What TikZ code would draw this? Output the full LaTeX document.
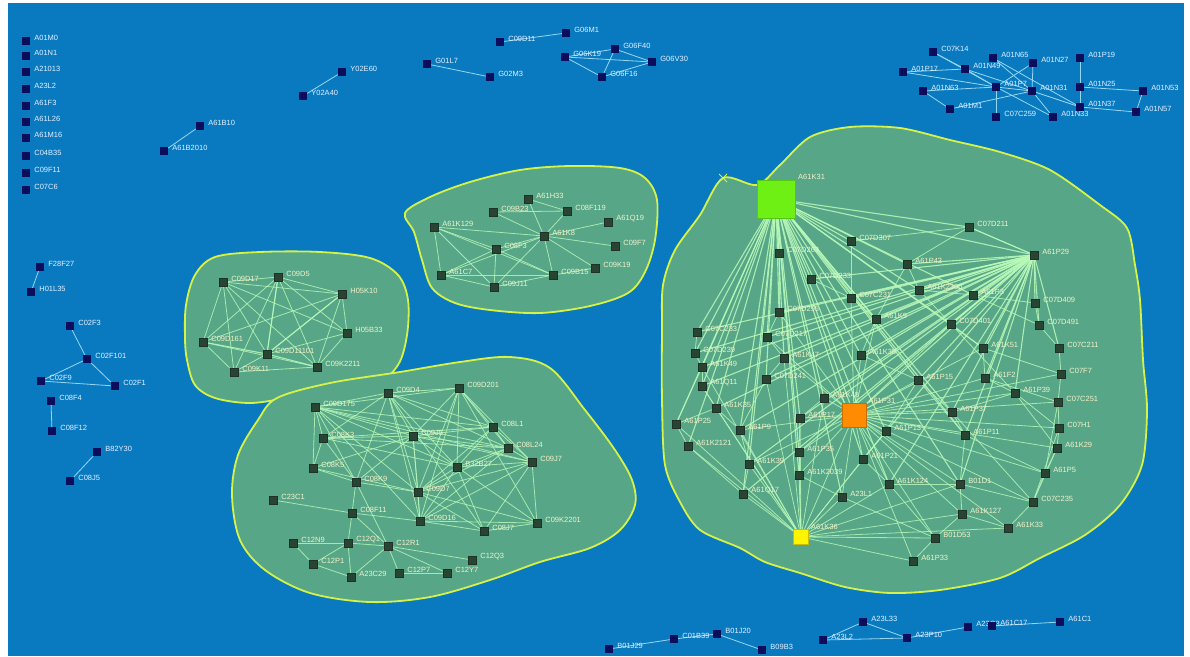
\documentclass[tikz,border=0pt]{standalone}
\usepackage{fontspec}
\setmainfont{Liberation Sans}
\pgfdeclarelayer{bgl}
\pgfdeclarelayer{edgel}
\pgfsetlayers{bgl,edgel,main}
\definecolor{bgblue}{RGB}{10,122,192}
\definecolor{clfill}{RGB}{88,166,136}
\definecolor{clline}{RGB}{214,242,72}
\definecolor{edgec}{RGB}{185,250,185}
\definecolor{oedgec}{RGB}{150,215,240}
\definecolor{outsq}{RGB}{12,14,92}
\definecolor{insq}{RGB}{42,68,52}
\definecolor{outtxt}{RGB}{225,240,255}
\definecolor{intxt}{RGB}{242,242,200}
\tikzset{
  osq/.style={fill=outsq,minimum size=8pt,inner sep=0pt},
  isq/.style={fill=insq,draw={rgb,255:red,30;green,50;blue,40},line width=0.4pt,minimum size=8pt,inner sep=0pt},
  olbl/.style={font=\fontsize{7.5}{8}\selectfont,text=outtxt,inner sep=0pt,label distance=4pt,yshift=3pt},
  ilbl/.style={font=\fontsize{7.5}{8}\selectfont,text=intxt,inner sep=0pt,label distance=4pt,yshift=3pt},
  oedge/.style={draw=oedgec,line width=0.8pt},
  iedge/.style={draw=edgec,line width=0.8pt,opacity=0.8},
  hedge/.style={draw=edgec,line width=1.1pt,opacity=0.85},
  cluster/.style={fill=clfill,draw=clline,line width=1.8pt},
}
\begin{document}
\begin{tikzpicture}[x=1pt,y=-1pt]
\useasboundingbox (0,0) rectangle (1190,656);
\begin{pgfonlayer}{bgl}
\fill[white] (0,0) rectangle (1190,656);
\fill[bgblue] (8,3) rectangle (1184,656);
% clusters
\draw[cluster] plot[smooth cycle,tension=0.55] coordinates {(405,213) (430,197) (470,182) (520,170) (570,166) (620,168) (645,178) (657,200) (655,240) (645,272) (628,293) (590,306) (540,313) (490,310) (455,303) (432,288) (422,260) (414,232)};
\draw[cluster] plot[smooth cycle,tension=0.55] coordinates {(185,338) (186,305) (195,275) (215,257) (260,252) (320,252) (370,258) (398,275) (408,300) (407,335) (398,365) (375,385) (330,395) (290,398) (250,403) (215,398) (195,385) (187,360)};
\draw[cluster] plot[smooth cycle,tension=0.55] coordinates {(277,398) (330,383) (400,372) (460,362) (510,357) (550,368) (585,410) (615,450) (632,480) (635,505) (620,530) (590,548) (540,562) (490,580) (430,597) (370,602) (310,593) (265,570) (240,540) (232,495) (238,455) (258,420)};
\draw[cluster] plot[smooth cycle,tension=0.5] coordinates {(723,178) (757,185) (780,165) (810,137) (850,127) (900,128) (950,140) (1000,152) (1050,170) (1100,205) (1127,228) (1135,265) (1140,300) (1143,360) (1147,410) (1142,465) (1120,505) (1085,535) (1040,558) (1000,578) (940,590) (890,593) (845,587) (800,573) (765,562) (740,548) (700,530) (680,502) (665,465) (662,400) (662,330) (663,285) (675,250) (700,215)};
\draw[clline,line width=1pt] (719,174) -- (727,182) (719,182) -- (727,174);
\end{pgfonlayer}

% ---------- outside nodes ----------
\foreach \nm/\x/\y/\lab in {a1/26/41/A01M0,a2/26/56/A01N1,a3/26/72/A21013,a4/26/89/A23L2,a5/26/106/A61F3,a6/26/122/A61L26,a7/26/138/A61M16,a8/26/156/C04B35,a9/26/173/C09F11,a10/26/190/C07C6,
  a11/200/126/A61B10,a12/164/151/A61B2010,
  f1/40/267/F28F27,f2/31/292/H01L35,
  d1/70/326/C02F3,d2/87/359/C02F101,d3/41/381/C02F9,d4/115/386/C02F1,
  e1/51/401/C08F4,e2/52/431/C08F12,h1/97/452/B82Y30,h2/70/481/C08J5,
  y1/342/72/Y02E60,y2/303/96/Y02A40,g1/427/64/G01L7,g2/490/77/G02M3,
  q1/500/42/C09D11,q2/566/33/G06M1,q3/565/57/G06K19,q4/615/49/G06F40,q5/652/62/G06V30,q6/602/77/G06F16,
  r1/933/52/C07K14,r2/993/58/A01N65,r3/1033/63/A01N27,r4/1080/58/A01P19,r5/903/72/A01P17,r6/965/69/A01N49,
  r7/923/91/A01N63,r8/996/87/A01P7,r9/1032/91/A01N31,r10/1080/87/A01N25,r11/1143/91/A01N53,r12/950/109/A01M1,
  r13/996/117/C07C259,r14/1053/117/A01N33,r15/1080/107/A01N37,r16/1136/112/A01N57,
  z1/609/649/B01J29,z2/674/639/C01B39,z3/717/634/B01J20,z4/762/650/B09B3,z5/863/622/A23L33,z6/823/640/A23L2,
  z7/907/638/A23P10,z8/968/627/A23G3,z9/992/626/A61C17,z10/1060/622/A61C1}
  \node[osq,label={[olbl]0:\lab}] (\nm) at (\x,\y) {};

% ---------- cluster nodes ----------
\foreach \nm/\x/\y/\lab in {
  t1/528/199/A61H33,t2/493/212/C09B23,t3/567/211/C08F119,t4/608/222/A61Q19,t5/544/236/A61K8,t6/434/227/A61K129,
  t7/615/246/C09F7,t8/496/249/C08F3,t9/441/275/A61C7,t10/553/275/C09B15,t11/595/268/C09K19,t12/494/287/C09J11,
  l1/223/282/C09D17,l2/278/277/C09D5,l3/342/294/H05K10,l4/347/333/H05B33,l5/203/342/C09D161,l6/267/354/C09D11101,
  l7/234/372/C09K11,l8/317/367/C09K2211,
  c1/388/393/C09D4,c2/459/388/C09D201,c3/315/407/C09D175,c4/493/427/C08L1,c5/323/438/C08K3,c6/413/436/C09J5,
  c7/508/448/C08L24,c8/313/468/C08K5,c9/457/467/B32B27,c10/532/462/C09J7,c11/356/482/C08K9,c12/418/492/C09D7,
  c13/273/500/C23C1,c14/352/513/C08F11,c15/420/521/C09D16,c16/484/531/C08J7,c17/537/523/C09K2201,
  c18/293/543/C12N9,c19/348/543/C12Q1,c20/388/546/C12R1,c21/313/564/C12P1,c22/351/577/A23C29,c23/399/573/C12P7,
  c24/447/573/C12Y7,c25/472/560/C12Q3,
  b1/851/241/C07D307,b2/969/227/C07D211,b3/1034/255/A61P29,b4/779/253/C07D263,b5/907/264/A61P43,b6/811/279/C07D233,
  b7/919/290/A61K2300,b8/973/295/A61P3,b9/851/298/C07C231,b10/1035/303/C07D409,b11/876/319/A61K9,b12/779/312/C07D295,
  b13/951/324/C07D401,b14/1039/325/C07D491,b15/697/332/C07C233,b16/767/337/C07D217,b17/983/348/A61K51,b18/1059/348/C07C211,
  b19/695/353/C07D239,b20/784/358/A61K47,b21/861/355/A61K38,b22/702/367/A61K49,b23/1061/374/C07F7,b24/918/380/A61P15,
  b25/985/378/A61F2,b26/702/386/A61Q11,b27/766/379/C07D241,b28/1015/393/A61P39,b29/824/398/A61K48,b30/1058/402/C07C251,
  b31/716/408/A61K35,b32/952/412/A61P37,b33/800/418/A61P17,b34/676/424/A61P25,b35/1059/428/C07H1,b36/740/430/A61P9,
  b37/886/431/A61P13,b38/965/435/A61P11,b39/688/446/A61K2121,b40/1057/448/A61K29,b41/799/452/A61P35,b42/863/459/A61P21,
  b43/749/464/A61K39,b44/1045/473/A61P5,b45/799/475/A61K2039,b46/889/484/A61K124,b47/960/484/B01D1,b48/842/497/A23L1,
  b49/743/494/A61Q17,b50/1033/502/C07C235,b51/962/514/A61K127,b52/1008/528/A61K33,b53/935/538/B01D53,b54/913/561/A61P33}
  \node[isq,label={[ilbl]0:\lab}] (\nm) at (\x,\y) {};

\node[fill={rgb,255:red,110;green,240;blue,20},draw={rgb,255:red,80;green,200;blue,20},minimum size=38pt,inner sep=0pt,
  label={[ilbl,anchor=west,label distance=4pt,yshift=-3pt]north east:A61K31}] (g0) at (776,199) {};
\node[fill={rgb,255:red,255;green,140;blue,0},draw={rgb,255:red,200;green,110;blue,0},minimum size=24pt,inner sep=0pt,
  label={[ilbl,anchor=west,label distance=3pt,yshift=-3pt]north east:A61P31}] (o0) at (854,415) {};
\node[fill={rgb,255:red,255;green,245;blue,0},draw={rgb,255:red,200;green,190;blue,0},minimum size=15pt,inner sep=0pt,
  label={[ilbl,anchor=west,label distance=3pt,yshift=-3pt]north east:A61K36}] (y0) at (801,537) {};

\begin{pgfonlayer}{edgel}
% outside edges
\foreach \a/\b in {a11/a12,f1/f2,d1/d2,d2/d4,d2/d3,d3/d4,e1/e2,h1/h2,y1/y2,g1/g2,q1/q2,q3/q6,q3/q5,q4/q5,q4/q6,q6/q5,q3/q4,
  r1/r8,r5/r6,r5/r8,r6/r8,r6/r9,r2/r15,r3/r8,r3/r9,r4/r10,r10/r15,r10/r11,r11/r16,r15/r16,r7/r12,r7/r8,r8/r13,r8/r9,r9/r14,r9/r15,r12/r9,r1/r6,r2/r9,r8/r14,
  z1/z2,z2/z3,z3/z4,z5/z6,z5/z7,z6/z7,z7/z8,z9/z10}
  \draw[oedge] (\a) -- (\b);
% top-middle cluster
\foreach \a/\b in {t5/t1,t5/t2,t5/t3,t5/t4,t5/t6,t5/t7,t5/t8,t5/t10,t5/t11,t5/t12,t5/t9,t2/t3,t6/t8,t6/t9,t6/t10,t6/t12,t8/t9,t8/t12,t8/t10,t9/t10,t9/t12,t10/t12,t10/t11,t1/t3}
  \draw[iedge] (\a) -- (\b);
% left cluster
\foreach \a/\b in {l1/l2,l1/l3,l1/l4,l1/l5,l1/l6,l1/l7,l1/l8,l2/l3,l2/l4,l2/l5,l2/l6,l2/l7,l2/l8,l3/l4,l3/l5,l3/l6,l3/l8,l4/l6,l4/l8,l5/l7,l5/l8,l6/l7,l7/l8}
  \draw[iedge] (\a) -- (\b);
\foreach \a/\b in {l5/l6,l6/l8,l2/l6,l3/l6}
  \draw[hedge] (\a) -- (\b);
% bottom-left cluster
\foreach \a/\b in {c1/c2,c1/c3,c1/c4,c1/c5,c1/c6,c1/c7,c1/c9,c1/c12,c1/c15,c1/c16,c1/c11,c2/c3,c2/c4,c2/c6,c2/c7,c2/c9,c2/c10,c2/c12,c2/c17,
  c3/c4,c3/c5,c3/c6,c3/c7,c3/c9,c3/c11,c3/c12,c3/c15,c3/c8,c4/c5,c4/c6,c4/c7,c4/c10,c4/c12,c5/c6,c5/c7,c5/c8,c5/c11,c5/c9,
  c6/c7,c6/c9,c6/c10,c6/c12,c6/c15,c7/c9,c7/c10,c7/c12,c8/c11,c8/c12,c8/c6,c9/c10,c9/c12,c9/c15,c9/c16,c9/c17,c10/c12,c10/c15,c10/c16,c10/c17,
  c11/c12,c11/c6,c12/c15,c12/c16,c12/c17,c15/c16,c15/c17,c16/c17,c7/c15,c4/c9,c2/c15,c3/c10,
  c13/c14,c14/c11,c14/c19,c14/c20,c19/c18,c19/c21,c19/c20,c19/c22,c20/c23,c20/c25,c20/c22,c18/c21,c23/c24,c20/c24,c21/c22,c14/c15,c11/c20}
  \draw[iedge] (\a) -- (\b);
% big cluster hubs
\foreach \b in {b1,b2,b3,b4,b5,b6,b7,b8,b9,b11,b12,b13,b15,b16,b17,b19,b20,b21,b22,b24,b26,b27,b29,b31,o0,b33,b34,b36,b37,b39,b41,b42,b43,b45,b46,b48,b49,b32,b38,b47}
  \draw[hedge] (g0) -- (\b);
\foreach \b in {b2,b5,b6,b7,b8,b9,b10,b11,b12,b13,b14,b16,b17,b18,b20,b21,b24,b25,b27,b28,b29,b31,o0,b32,b33,b36,b38,b41,b42,b43,b46,b47,b49,b15,b19,b26,b22}
  \draw[hedge] (b3) -- (\b);
\foreach \b in {b9,b11,b12,b16,b20,b21,b24,b25,b28,b29,b30,b32,b33,b35,b36,b37,b38,b40,b41,b42,b43,b44,b45,b46,b47,b48,b50,b51,b52,b53,b54,b23,b13,b17}
  \draw[iedge] (o0) -- (\b);
\foreach \b in {b26,b31,b34,b36,b39,b41,b43,b45,b46,b42,b47,b48,b49,b51,b53,b54,b52,b33,b29,b20,b22,b27,o0,b37}
  \draw[iedge] (y0) -- (\b);
\foreach \a/\b in {b15/b19,b19/b22,b22/b26,b26/b31,b34/b39,b39/b49,b31/b36,b36/b43,b43/b49,b44/b50,b50/b52,b23/b30,b30/b35,b35/b40,b40/b44,
  b18/b23,b14/b18,b10/b14,b1/b2,b2/b5,b5/b7,b7/b8,b8/b10,b13/b17,b17/b25,b25/b28,b28/b32,b32/b38,b38/b47,b47/b51,b51/b52,b53/b54,b46/b47,
  b21/b24,b24/b32,b37/b42,b42/b46,b45/b48,b48/b53,b41/b45,b29/b33,b33/b41,b12/b16,b16/b20,b20/b27,b27/b36,b6/b9,b9/b11,b11/b21,b4/b12,
  b34/b31,b22/b34,b13/b28,b25/b30,b28/b35,b32/b50,b38/b44,b46/b53,b47/b50,b51/b53,b24/b38,b17/b23,b8/b14,b7/b13,b5/b11,b35/b50,b40/b50,
  b30/b44,b24/b37,b28/b40,b2/b3,b1/b9}
  \draw[iedge] (\a) -- (\b);
\end{pgfonlayer}
\end{tikzpicture}
\end{document}
